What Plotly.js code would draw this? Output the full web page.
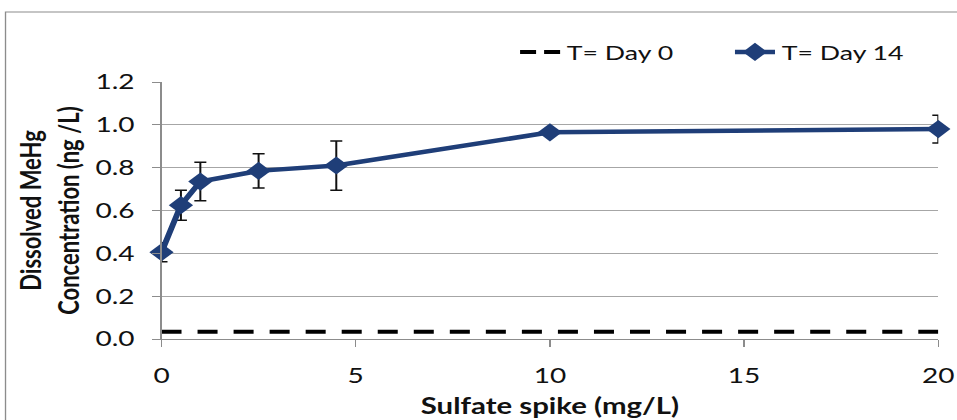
<!DOCTYPE html>
<html><head><meta charset="utf-8">
<script src="https://cdn.plot.ly/plotly-3.0.1.min.js"></script>
<style>
html,body{margin:0;padding:0;overflow:hidden;background:#fff;width:957px;height:420px;}
#wrap{width:957px;height:420px;overflow:hidden;}
#chart{width:717px;height:420px;transform:scaleX(1.33473);transform-origin:0 0;}
</style></head><body><div id="wrap"><div id="chart"></div></div>
<script>
// Data
var sulfateSpike = [0, 0.5, 1, 2.5, 4.5, 10, 20];
var day14MeHg = [0.405, 0.625, 0.735, 0.785, 0.81, 0.965, 0.98];
var day14Err = [0.044, 0.07, 0.09, 0.08, 0.115, 0.01, 0.065];
var day0X = [0, 20];
var day0MeHg = [0.034, 0.034];
var seriesNames = ["T= Day 0", "T= Day 14"];
var yTicks = [0, 0.2, 0.4, 0.6, 0.8, 1.0, 1.2];
var xTicks = [0, 5, 10, 15, 20];

var FONT = "Lato, 'Open Sans', sans-serif";
var navy = "#1F3E78";

var data = [
  {
    x: day0X, y: day0MeHg, name: seriesNames[0], type: "scatter", mode: "lines",
    line: {color: "#000000", width: 4, dash: "15px,12px"}, cliponaxis: false, showlegend: false
  },
  {
    // legend entry for the Day 0 series (same style, shorter dash so two dashes show)
    x: [null], y: [null], name: seriesNames[0], type: "scatter", mode: "lines",
    line: {color: "#000000", width: 4, dash: "12px,6px"}, showlegend: true, hoverinfo: "skip"
  },
  {
    x: sulfateSpike, y: day14MeHg, name: seriesNames[1], type: "scatter", mode: "lines+markers",
    line: {color: navy, width: 4.5},
    marker: {symbol: "diamond", size: 14, color: navy},
    error_y: {type: "data", array: day14Err, visible: true, color: "#111111", thickness: 1.5, width: 4.5},
    cliponaxis: false
  }
];

var layout = {
  width: 717, height: 420,
  margin: {l: 120.6, r: 14.4, t: 82, b: 81, pad: 0, autoexpand: false},
  paper_bgcolor: "#ffffff", plot_bgcolor: "#ffffff",
  font: {family: FONT, size: 20, color: "#111111"},
  showlegend: true,
  legend: {
    orientation: "h", x: 0.453, xanchor: "left", y: 1.117, yanchor: "middle",
    font: {family: FONT, size: 20, color: "#111111"},
    entrywidth: 116, entrywidthmode: "pixels", bgcolor: "rgba(0,0,0,0)"
  },
  xaxis: {
    range: [0, 20], tickvals: xTicks, ticktext: xTicks.map(String),
    showgrid: false, zeroline: false, showline: true, linecolor: "#8c8c8c", linewidth: 1,
    ticks: "outside", ticklen: 7, tickcolor: "#8c8c8c", tickwidth: 1,
    tickfont: {family: FONT, size: 21, color: "#111111"}, ticklabelstandoff: 11,
    title: {text: "Sulfate spike (mg/L)", font: {family: FONT, size: 22, color: "#111111", weight: "bold"}, standoff: 12},
    automargin: false
  },
  yaxis: {
    range: [0, 1.2], tickvals: yTicks, ticktext: yTicks.map(function(v){return v.toFixed(1);}),
    showgrid: true, gridcolor: "#a6a6a6", gridwidth: 1, zeroline: false,
    showline: true, linecolor: "#8c8c8c", linewidth: 1,
    ticks: "outside", ticklen: 6, tickcolor: "#8c8c8c", tickwidth: 1,
    tickfont: {family: FONT, size: 21, color: "#111111"}, ticklabelstandoff: 9,
    title: {text: "Dissolved MeHg<br>Concentration (ng /L)", font: {family: FONT, size: 22, color: "#111111", weight: "bold"}, standoff: 5},
    automargin: false
  },
  shapes: [
    {type: "rect", xref: "paper", yref: "paper", x0: -0.2008, x1: 1.05, y0: -0.5, y1: 1.2724,
     line: {color: "#8c8c8c", width: 1}, fillcolor: "rgba(0,0,0,0)", layer: "below"}
  ]
};

Plotly.newPlot("chart", data, layout, {staticPlot: true, displayModeBar: false});
</script></body></html>
